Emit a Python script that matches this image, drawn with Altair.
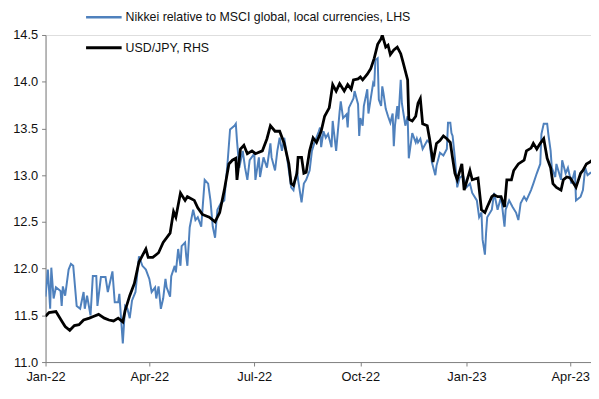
import altair as alt
import pandas as pd

START = "2022-01-01"

# Nikkei relative to MSCI global (LHS): days since 1 Jan 2022, value
nikkei_day = [0, 2, 4, 5, 7, 9, 13, 14, 15, 17, 20, 22, 24, 27, 30, 33, 34, 36, 39, 41, 44, 45, 48, 52, 54, 56, 58, 60, 63, 64,
              67, 69, 71, 73, 75, 78, 81, 84, 87, 90, 92, 95, 96, 98, 100, 102, 104, 105, 108, 109, 112, 113, 115, 117, 118, 121,
              122, 123, 125, 128, 130, 132, 135, 138, 141, 143, 145, 147, 149, 152, 155, 158, 160, 164, 165, 166, 168, 171, 173,
              175, 177, 181, 182, 185, 186, 189, 192, 195, 196, 199, 201, 203, 205, 207, 211, 213, 215, 218, 219, 222, 224, 226,
              229, 231, 233, 237, 238, 239, 241, 243, 245, 248, 249, 250, 252, 255, 256, 258, 261, 262, 263, 267, 268, 271, 272,
              273, 275, 276, 279, 280, 284, 285, 286, 288, 289, 291, 292, 293, 295, 297, 299, 301, 302, 303, 305, 306, 308, 309,
              312, 314, 315, 318, 321, 322, 323, 325, 327, 331, 333, 335, 338, 339, 342, 345, 348, 349, 351, 352, 353, 355, 357,
              359, 362, 365, 368, 370, 374, 376, 378, 379, 381, 382, 383, 387, 389, 392, 395, 398, 399, 402, 405, 408, 410, 412,
              415, 417, 421, 423, 426, 429, 430, 432, 435, 436, 438, 439, 442, 443, 447, 448, 451, 453, 456, 459, 460, 464, 466,
              468, 470, 473]
nikkei_val = [11.70, 11.99, 11.57, 12.01, 11.68, 11.80, 11.76, 11.60, 11.81, 11.71, 11.99, 12.05, 12.03, 11.60, 11.57, 11.75,
              11.57, 11.71, 11.50, 11.92, 11.92, 11.60, 11.91, 11.91, 11.75, 11.86, 11.97, 11.64, 11.64, 11.73,
              11.20, 11.60, 11.57, 11.47, 11.66, 11.75, 12.13, 12.03, 11.99, 11.89, 11.75, 11.80, 11.68, 11.81, 11.57, 11.68,
              11.89, 11.80, 11.70, 11.92, 12.03, 11.96, 12.21, 12.03, 12.24, 12.28,
              12.13, 12.03, 12.44, 12.63, 12.52, 12.55, 12.45, 12.95, 12.91, 12.73, 12.45, 12.33, 12.63, 12.70, 12.73, 13.16,
              13.49, 13.53, 13.55, 13.37, 13.08, 13.26, 13.08,
              12.95, 13.16, 13.23, 12.95, 13.19, 12.98, 13.19, 13.08, 13.34, 13.19, 13.05, 13.26, 13.40, 13.26, 13.40, 13.05,
              12.87, 12.84, 13.05, 12.95, 12.71, 12.91, 12.95,
              13.05, 13.26, 13.34, 13.47, 13.51, 13.30, 13.47, 13.40, 13.44, 13.30, 13.58, 13.47, 13.26, 13.68, 13.79, 13.61,
              13.65, 13.51, 13.72, 13.82, 13.90, 13.76, 13.42,
              13.61, 13.53, 13.74, 13.92, 13.66, 13.98, 13.95, 14.23, 14.25, 13.81, 13.74, 13.95, 13.88, 13.71, 13.63, 13.56,
              13.66, 13.31, 13.53, 13.74, 13.60, 14.02, 13.77,
              13.53, 13.63, 13.18, 13.45, 13.35, 13.39, 13.35, 13.39, 13.28, 13.37, 13.35, 13.14, 13.00, 13.10, 13.24, 13.21,
              13.28, 13.56, 13.56, 13.45, 13.42, 13.18, 12.87,
              12.97, 13.00, 12.87, 12.91, 12.81, 12.73, 12.55, 12.60, 12.31, 12.15, 12.38, 12.55, 12.63, 12.81, 12.63, 12.77,
              12.45, 12.63, 12.73, 12.66, 12.60, 12.52, 12.70,
              12.77, 12.73, 12.84, 12.91, 13.02, 13.12, 13.44, 13.55, 13.55, 13.44, 13.26, 13.08, 12.98, 13.12, 12.95, 13.16,
              13.02, 13.08, 12.91, 13.05, 12.73, 12.77, 12.84,
              13.08, 13.00, 13.03]

# USD/JPY (RHS, read against the LHS grid): days since 1 Jan 2022, value
usdjpy_day = [0, 3, 9, 14, 17, 21, 25, 29, 33, 38, 42, 46, 51, 55, 59, 63, 67, 69, 73, 77, 81, 87, 89, 93, 98, 102, 108, 111,
              113, 117, 121, 123, 129, 132, 136, 142, 147, 151, 155, 159, 162, 165, 166, 169, 172, 175, 179, 182, 188, 192,
              195, 199, 203, 207, 211, 213, 215, 218, 219, 222, 224, 226, 229, 232, 235, 239, 242, 246, 249, 252, 255, 259,
              262, 265, 267, 271, 273, 275, 279, 282, 285, 288, 291, 292, 295, 297, 299, 302, 305, 308, 310, 314, 315, 318,
              321, 323, 325, 327, 331, 333, 336, 339, 342, 345, 348, 351, 353, 355, 357, 361, 363, 368, 370, 375, 378, 381,
              383, 387, 389, 392, 395, 398, 400, 404, 406, 410, 415, 417, 421, 423, 426, 429, 432, 435, 438, 440, 443, 447,
              449, 452, 455, 458, 460, 464, 466, 469, 472, 474]
usdjpy_val = [11.49, 11.53, 11.54, 11.44, 11.38, 11.34, 11.39, 11.40, 11.45, 11.47, 11.49, 11.51, 11.47, 11.45, 11.44, 11.47,
              11.43, 11.55, 11.71, 11.84, 12.07, 12.21, 12.12, 12.12, 12.17, 12.28, 12.38, 12.61,
              12.55, 12.81, 12.73, 12.77, 12.73, 12.65, 12.58, 12.55, 12.50, 12.60, 12.84, 13.12, 13.16, 13.18, 12.95, 13.28,
              13.32, 13.23, 13.26, 13.23, 13.26, 13.39,
              13.53, 13.47, 13.47, 13.34, 13.12, 12.91, 12.89, 13.02, 13.19, 13.19, 13.02, 13.03, 13.26, 13.40, 13.35, 13.47,
              13.63, 13.72, 13.97, 13.90, 13.98, 13.90,
              13.97, 13.92, 14.02, 14.03, 14.05, 14.02, 14.08, 14.14, 14.25, 14.40, 14.46, 14.50, 14.37, 14.39, 14.29, 14.34,
              14.37, 14.30, 14.21, 14.02, 13.60, 13.58,
              13.63, 13.77, 13.82, 13.55, 13.53, 13.39, 13.14, 13.34, 13.37, 13.42, 13.39, 13.35, 13.18, 13.02, 12.95, 13.12,
              12.84, 13.05, 12.95, 12.97, 12.63, 12.60,
              12.66, 12.77, 12.79, 12.77, 12.77, 12.66, 12.95, 12.95, 13.05, 13.12, 13.16, 13.26, 13.29, 13.34, 13.28, 13.34,
              13.39, 13.18, 13.08, 12.91, 12.87, 12.84,
              12.95, 12.98, 12.97, 12.91, 12.87, 13.02, 13.05, 13.12, 13.14, 13.16]

y_ticks = [11.0, 11.5, 12.0, 12.5, 13.0, 13.5, 14.0, 14.5]
x_tick_months = [(2022, 1), (2022, 4), (2022, 7), (2022, 10), (2023, 1), (2023, 4)]
legend_labels = ["Nikkei relative to MSCI global, local currencies, LHS", "USD/JPY, RHS"]
colors = ["#4F81BD", "#000000"]

FONT = "Liberation Sans, Arial, sans-serif"


def frame(days, vals):
    dates = pd.Timestamp(START) + pd.to_timedelta(days, unit="D")
    return pd.DataFrame({"date": dates.strftime("%Y-%m-%d"), "value": vals})


nikkei = frame(nikkei_day, nikkei_val)
usdjpy = frame(usdjpy_day, usdjpy_val)

x_scale = alt.Scale(
    type="utc",
    domain=[alt.DateTime(year=2022, month=1, date=1, utc=True),
            alt.DateTime(year=2023, month=4, date=19, utc=True)],
)
y_scale = alt.Scale(domain=[11.0, 14.5], zero=False, nice=False)

x_axis = alt.Axis(
    values=[alt.DateTime(year=y, month=m, date=1, utc=True) for y, m in x_tick_months],
    labelExpr="utcFormat(datum.value, '%b-%y')",
    title=None, grid=False, domainColor="#808080", tickColor="#808080",
    tickSize=4, labelPadding=5, labelFlush=False, labelFontSize=13,
    labelColor="#111111", labelFont=FONT,
)
y_axis = alt.Axis(
    values=y_ticks, format=".1f", title=None, grid=False,
    domainColor="#808080", tickColor="#808080", tickSize=4, labelPadding=4,
    labelFontSize=13, labelColor="#111111", labelFont=FONT,
)

enc = dict(
    x=alt.X("date:T", scale=x_scale, axis=x_axis),
    y=alt.Y("value:Q", scale=y_scale, axis=y_axis),
)

blue = alt.Chart(nikkei).mark_line(color=colors[0], strokeWidth=2, clip=True).encode(**enc)
black = alt.Chart(usdjpy).mark_line(color=colors[1], strokeWidth=2.8, clip=True).encode(**enc)

dummy = pd.DataFrame({"k": [0]})
legend_layers = []
for i, (lab, col) in enumerate(zip(legend_labels, colors)):
    yy = -18 if i == 0 else 13
    legend_layers.append(
        alt.Chart(dummy).mark_rule(color=col, strokeWidth=2.5 if i == 0 else 3).encode(
            x=alt.value(41), x2=alt.value(77), y=alt.value(yy)
        )
    )
    legend_layers.append(
        alt.Chart(dummy).mark_text(align="left", baseline="middle", fontSize=12.5, font=FONT, color="#111111").encode(
            x=alt.value(81), y=alt.value(yy), text=alt.value(lab)
        )
    )

chart = alt.layer(blue, black, *legend_layers).properties(
    width=552, height=331,
    autosize=alt.AutoSizeParams(type="none"),
    padding={"left": 38, "top": 25, "right": 0, "bottom": 30},
).configure_view(stroke=None).configure(background="white")

chart.save("out.html", embed_options={"renderer": "svg", "actions": False})
